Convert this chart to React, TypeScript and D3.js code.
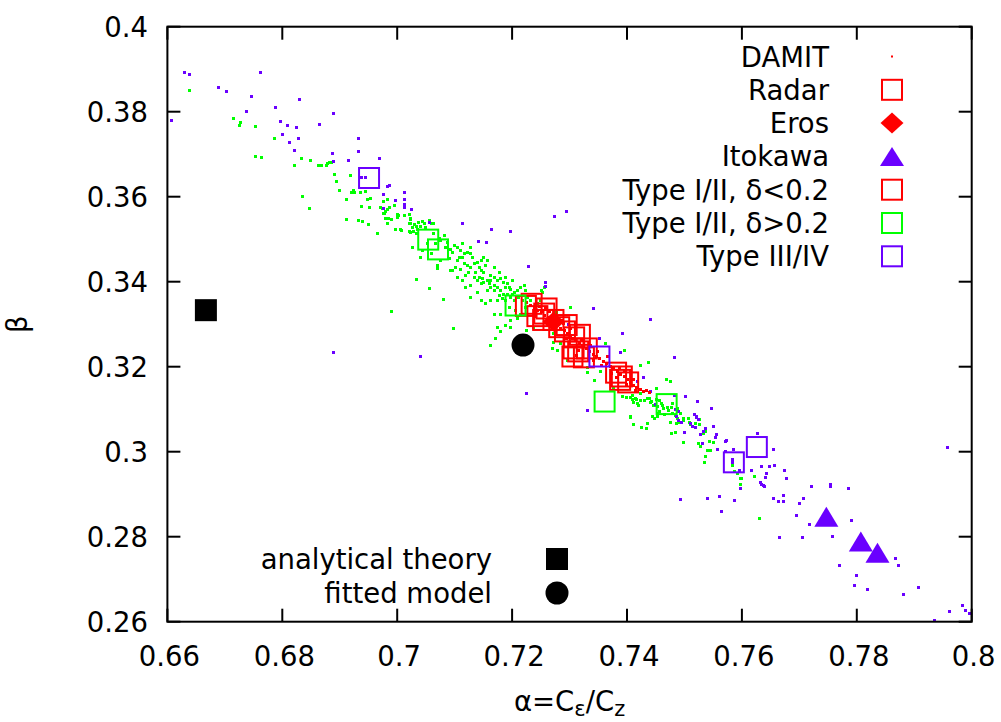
import React from 'react';
import * as d3 from 'd3';

// ---------- data ----------
const xTickValues = [0.66, 0.68, 0.7, 0.72, 0.74, 0.76, 0.78, 0.8];
const xTickLabels = ['0.66', '0.68', '0.7', '0.72', '0.74', '0.76', '0.78', '0.8'];
const yTickValues = [0.26, 0.28, 0.3, 0.32, 0.34, 0.36, 0.38, 0.4];
const yTickLabels = ['0.26', '0.28', '0.3', '0.32', '0.34', '0.36', '0.38', '0.4'];

const legendLabels = ['DAMIT', 'Radar', 'Eros', 'Itokawa', 'Type I/II, δ<0.2', 'Type I/II, δ>0.2', 'Type III/IV'];
const bottomLegendLabels = ['analytical theory', 'fitted model'];

const greenDots: [number, number][] = [
  [0.6637,0.3852],[0.6715,0.3785],[0.6727,0.3775],[0.6724,0.3768],[0.6752,0.3766],[0.6785,0.3738],[0.6752,0.3696],[0.6763,0.3694],
  [0.6833,0.3691],[0.6820,0.3674],[0.6849,0.3686],[0.6862,0.3675],[0.6867,0.3674],[0.6876,0.3675],[0.6877,0.3679],[0.6881,0.3681],
  [0.6884,0.3682],[0.6890,0.3653],[0.6893,0.3638],[0.6918,0.3652],[0.6899,0.3616],[0.6920,0.3612],[0.6923,0.3615],[0.6925,0.3611],
  [0.6935,0.3611],[0.6944,0.3613],[0.6835,0.3601],[0.6911,0.3595],[0.6947,0.3595],[0.6953,0.3596],[0.6846,0.3574],[0.6937,0.3578],
  [0.6951,0.3575],[0.6975,0.3591],[0.6983,0.3595],[0.6970,0.3575],[0.6974,0.3573],[0.6977,0.3562],[0.6979,0.3566],[0.6982,0.3572],
  [0.6986,0.3575],[0.6995,0.3580],[0.6911,0.3547],[0.6931,0.3546],[0.6939,0.3542],[0.6949,0.3536],[0.6976,0.3561],[0.6979,0.3550],
  [0.6984,0.3550],[0.6990,0.3547],[0.6999,0.3560],[0.7000,0.3552],[0.6983,0.3538],[0.6996,0.3525],[0.7005,0.3523],[0.7006,0.3522],
  [0.6965,0.3514],[0.7021,0.3560],[0.7022,0.3548],[0.7023,0.3539],[0.7021,0.3519],[0.7028,0.3520],[0.7032,0.3532],[0.7026,0.3482],
  [0.7040,0.3457],[0.7070,0.3433],[0.7039,0.3530],[0.7048,0.3527],[0.7055,0.3545],[0.7062,0.3538],
  [0.6989,0.3330],[0.7032,0.3407],[0.7055,0.3386],[0.7079,0.3359],[0.7097,0.3292],
  [0.7020,0.3539],[0.7029,0.3536],[0.7037,0.3541],[0.7043,0.3543],[0.7046,0.3537],[0.7058,0.3539],[0.7023,0.3518],[0.7032,0.3514],
  [0.7026,0.3482],[0.7043,0.3474],[0.7058,0.3467],[0.7066,0.3490],[0.7075,0.3498],[0.7081,0.3510],[0.7084,0.3482],[0.7092,0.3478],
  [0.7095,0.3470],[0.7104,0.3482],[0.7110,0.3474],[0.7113,0.3459],[0.7116,0.3467],[0.7121,0.3470],[0.7127,0.3467],[0.7130,0.3459],
  [0.7104,0.3451],[0.7101,0.3435],[0.7110,0.3431],[0.7116,0.3443],[0.7121,0.3439],[0.7127,0.3435],[0.7133,0.3443],[0.7139,0.3447],
  [0.7142,0.3435],[0.7145,0.3427],[0.7150,0.3423],[0.7153,0.3439],[0.7156,0.3451],[0.7162,0.3416],[0.7168,0.3412],[0.7174,0.3404],
  [0.7179,0.3408],[0.7185,0.3400],[0.7191,0.3396],[0.7194,0.3388],[0.7197,0.3384],[0.7179,0.3380],[0.7185,0.3372],[0.7162,0.3388],
  [0.7156,0.3380],[0.7145,0.3357],[0.7127,0.3365],[0.7118,0.3388],[0.7113,0.3404],[0.7095,0.3427],[0.7133,0.3412],[0.7139,0.3404],
  [0.7145,0.3396],[0.7150,0.3400],[0.7162,0.3404],[0.7168,0.3392],[0.7174,0.3388],[0.7203,0.3376],[0.7208,0.3380],[0.7214,0.3388],
  [0.7220,0.3392],[0.7223,0.3380],[0.7226,0.3365],[0.7197,0.3365],[0.7203,0.3357],[0.7188,0.3357],[0.7162,0.3357],[0.7153,0.3349],
  [0.7168,0.3325],[0.7179,0.3325],[0.7188,0.3298],[0.7174,0.3294],[0.7197,0.3310],[0.7249,0.3357],[0.7252,0.3376],[0.7255,0.3388],
  [0.7300,0.3341],
  [0.7001,0.3557],[0.7011,0.3558],[0.7020,0.3559],[0.7023,0.3549],[0.7026,0.3529],[0.7034,0.3525],[0.7049,0.3529],[0.7063,0.3514],
  [0.7072,0.3502],[0.7052,0.3490],[0.7087,0.3494],[0.7098,0.3486],[0.7090,0.3455],[0.7107,0.3459],[0.7092,0.3427],[0.7118,0.3416],
  [0.7124,0.3423],[0.7136,0.3423],[0.7142,0.3412],[0.7148,0.3408],[0.7156,0.3404],[0.7159,0.3396],[0.7168,0.3380],[0.7177,0.3369],
  [0.7182,0.3361],[0.7191,0.3372],[0.7200,0.3372],[0.7211,0.3365],[0.7217,0.3357],[0.7194,0.3341],[0.7205,0.3333],[0.7214,0.3325],
  [0.7223,0.3341],[0.7232,0.3357],[0.7243,0.3349],[0.7113,0.3490],[0.7127,0.3482],[0.7145,0.3451],[0.7150,0.3459],[0.7168,0.3435],
  [0.7177,0.3423],[0.7188,0.3412],[0.7200,0.3404],[0.7188,0.3388],[0.7174,0.3357],[0.7139,0.3376],[0.7127,0.3392],[0.7104,0.3412],
  [0.7075,0.3451],[0.7069,0.3439],
  [0.7162,0.3251],[0.7170,0.3268],[0.7270,0.3243],[0.7343,0.3169],[0.7436,0.3212],[0.7208,0.3314],[0.7196,0.3294],[0.7179,0.3283],
  [0.7237,0.3294],[0.7225,0.3287],[0.7272,0.3279],[0.7283,0.3255],[0.7278,0.3239],[0.7330,0.3200],[0.7353,0.3189],[0.7376,0.3153],
  [0.7405,0.3129],[0.7411,0.3118],[0.7423,0.3137],
  [0.7251,0.3380],[0.7276,0.3329],[0.7269,0.3243],[0.7272,0.3257],[0.7295,0.3216],[0.7330,0.3188],[0.7362,0.3255],[0.7395,0.3239],
  [0.7422,0.3203],[0.7468,0.3172],[0.7475,0.3167],[0.7451,0.3151],[0.7391,0.3130],[0.7398,0.3128],[0.7408,0.3134],
  [0.7414,0.3126],[0.7423,0.3122],[0.7434,0.3126],[0.7440,0.3118],[0.7446,0.3110],[0.7455,0.3122],[0.7461,0.3110],[0.7469,0.3106],
  [0.7478,0.3114],[0.7487,0.3102],[0.7492,0.3092],[0.7484,0.3086],[0.7498,0.3080],[0.7507,0.3079],[0.7452,0.3092],[0.7443,0.3083],
  [0.7405,0.3084],[0.7417,0.3114],
  [0.7409,0.3125],[0.7415,0.3123],[0.7419,0.3111],[0.7430,0.3121],[0.7438,0.3127],[0.7441,0.3119],[0.7447,0.3111],[0.7450,0.3123],
  [0.7453,0.3107],[0.7456,0.3095],[0.7459,0.3115],[0.7462,0.3103],[0.7465,0.3089],[0.7471,0.3099],[0.7476,0.3105],[0.7478,0.3091],
  [0.7483,0.3087],[0.7487,0.3079],[0.7491,0.3069],[0.7497,0.3075],[0.7508,0.3071],[0.7509,0.3065],[0.7518,0.3067],[0.7526,0.3065],
  [0.7525,0.3077],[0.7453,0.3083],[0.7447,0.3079],[0.7474,0.3069],[0.7486,0.3067],[0.7406,0.3081],[0.7410,0.3065],[0.7425,0.3059],
  [0.7433,0.3055],[0.7434,0.3067],[0.7476,0.3044],[0.7483,0.3046],[0.7497,0.3022],[0.7532,0.3045],[0.7535,0.3048],[0.7542,0.3026],
  [0.7550,0.3023],[0.7524,0.3020],[0.7527,0.3014],[0.7539,0.3004],[0.7545,0.3004],[0.7536,0.2991],[0.7534,0.2975],[0.7583,0.2969],
  [0.7586,0.2955],[0.7592,0.2951],[0.7596,0.2937],[0.7596,0.2925],[0.7599,0.2939],[0.7621,0.2943],[0.7629,0.2845],
];

const purpleDots: [number, number][] = [
  [0.6629,0.3894],[0.6637,0.3889],[0.6761,0.3894],[0.6688,0.3858],[0.6702,0.3849],[0.6746,0.3838],[0.6829,0.3829],[0.6736,0.3801],
  [0.6787,0.3812],[0.6888,0.3797],[0.6606,0.3780],[0.6796,0.3778],[0.6809,0.3769],[0.6824,0.3764],[0.6864,0.3770],[0.6800,0.3748],
  [0.6827,0.3738],[0.6812,0.3729],[0.6931,0.3737],[0.6820,0.3710],[0.6931,0.3708],[0.6886,0.3702],[0.6888,0.3683],[0.6914,0.3686],
  [0.6969,0.3692],[0.6937,0.3646],[0.6944,0.3647],[0.6983,0.3625],[0.6985,0.3628],[0.7012,0.3612],[0.6976,0.3607],[0.6997,0.3593],
  [0.7011,0.3595],[0.7011,0.3583],[0.7011,0.3575],[0.6976,0.3574],[0.7024,0.3571],[0.7056,0.3540],
  [0.7113,0.3539],[0.7164,0.3525],[0.7197,0.3519],[0.7140,0.3496],[0.7154,0.3494],[0.7273,0.3554],[0.7294,0.3567],[0.7228,0.3437],
  [0.7258,0.3399],[0.7257,0.3390],[0.7298,0.3300],
  [0.7340,0.3339],[0.7440,0.3312],[0.7391,0.3279],[0.7482,0.3222],[0.7040,0.3226],[0.7225,0.3138],[0.7352,0.3268],[0.7387,0.3235],
  [0.7331,0.3098],[0.7521,0.3120],[0.6888,0.3235],
  [0.7427,0.3175],[0.7417,0.3166],[0.7440,0.3142],[0.7481,0.3134],[0.7501,0.3131],[0.7546,0.3103],[0.7517,0.3088],[0.7520,0.3081],
  [0.7483,0.3100],[0.7449,0.3112],
  [0.7488,0.3095],[0.7486,0.3083],[0.7489,0.3075],[0.7494,0.3071],[0.7520,0.3085],[0.7524,0.3077],[0.7510,0.3067],[0.7514,0.3061],
  [0.7519,0.3057],[0.7550,0.3061],[0.7536,0.3056],[0.7533,0.3048],[0.7500,0.3046],[0.7527,0.3041],[0.7530,0.3021],[0.7555,0.3041],
  [0.7553,0.3034],[0.7572,0.3028],[0.7571,0.3025],[0.7556,0.3007],[0.7571,0.3001],[0.7627,0.3045],[0.7655,0.3006],[0.7585,0.3007],
  [0.7583,0.2983],[0.7583,0.2975],[0.7595,0.2957],[0.7616,0.2958],[0.7633,0.2966],[0.7648,0.2967],[0.7656,0.2968],[0.7642,0.2949],
  [0.7640,0.2940],[0.7632,0.2929],[0.7633,0.2925],[0.7637,0.2921],[0.7639,0.2919],[0.7674,0.2957],[0.7676,0.2937],[0.7596,0.2914],
  [0.7493,0.2889],[0.7540,0.2891],[0.7561,0.2895],[0.7586,0.2886],[0.7564,0.2860],[0.7655,0.2890],[0.7662,0.2883],[0.7672,0.2885],
  [0.7672,0.2898],[0.7700,0.2879],[0.7706,0.2892],[0.7695,0.2852],[0.7720,0.2920],[0.7754,0.2924],[0.7754,0.2920],[0.7785,0.2915],
  [0.7716,0.2830],[0.7665,0.2799],[0.7705,0.2799],[0.7757,0.2801],[0.7790,0.2840],[0.7769,0.2733],[0.7866,0.2751],[0.7872,0.2734],
  [0.7799,0.2711],[0.7795,0.2687],[0.7817,0.2676],[0.7880,0.2666],[0.7906,0.2682],[0.7957,0.3012],[0.7983,0.2640],[0.7989,0.2627],
  [0.7995,0.2620],[0.7961,0.2625],[0.7934,0.2605],
];

const redDots: [number, number][] = [
  [0.7225,0.3352],[0.7232,0.3345],[0.7238,0.3340],[0.7243,0.3333],[0.7250,0.3330],[0.7255,0.3322],[0.7262,0.3318],[0.7266,0.3310],
  [0.7272,0.3302],[0.7278,0.3300],[0.7283,0.3292],[0.7290,0.3287],[0.7296,0.3280],[0.7300,0.3275],[0.7305,0.3268],[0.7310,0.3262],
  [0.7316,0.3255],[0.7322,0.3250],[0.7328,0.3244],[0.7333,0.3238],[0.7340,0.3230],[0.7346,0.3226],[0.7352,0.3220],[0.7358,0.3214],
  [0.7364,0.3208],[0.7370,0.3201],[0.7376,0.3196],[0.7382,0.3190],[0.7388,0.3184],[0.7394,0.3178],[0.7400,0.3170],[0.7405,0.3163],
  [0.7410,0.3158],[0.7415,0.3152],[0.7422,0.3147],[0.7428,0.3142],[0.7433,0.3146],[0.7438,0.3141],[0.7240,0.3320],[0.7265,0.3330],
  [0.7285,0.3310],[0.7300,0.3290],[0.7320,0.3265],[0.7315,0.3240],[0.7340,0.3215],[0.7365,0.3225],[0.7380,0.3175],[0.7395,0.3190],
  [0.7410,0.3170],[0.7414,0.3145],[0.7246,0.3344],[0.7258,0.3339],[0.7270,0.3322],[0.7288,0.3302],[0.7293,0.3268],[0.7312,0.3228],
  [0.7336,0.3252],[0.7348,0.3238],[0.7355,0.3205],[0.7372,0.3186],[0.7386,0.3198],[0.7398,0.3160],
];

// Type I/II, δ<0.2 squares (red, hollow)
const typeLowSquares: [number, number][] = [
  [0.7234,0.3348],[0.7244,0.3319],[0.7256,0.3325],[0.7260,0.3337],[0.7254,0.3310],[0.7272,0.3310],[0.7282,0.3293],[0.7292,0.3283],
  [0.7295,0.3298],[0.7308,0.3269],[0.7318,0.3275],[0.7305,0.3224],[0.7325,0.3222],[0.7315,0.3236],[0.7330,0.3243],[0.7307,0.3243],
  [0.7388,0.3169],[0.7391,0.3177],
];
// Radar squares (red, hollow)
const radarSquares: [number, number][] = [[0.7224,0.3343],[0.7381,0.3186],[0.7402,0.3163]];
// Type I/II, δ>0.2 squares (green, hollow)
const typeHighSquares: [number, number][] = [[0.7054,0.3499],[0.7071,0.3476],[0.7206,0.3344],[0.7361,0.3118],[0.7469,0.3112]];
// Type III/IV squares (purple, hollow)
const typeIIISquares: [number, number][] = [[0.6951,0.3644],[0.7352,0.3224],[0.7586,0.2975],[0.7626,0.3011]];
const erosPoints: [number, number][] = [[0.7272,0.3306]];
const itokawaPoints: [number, number][] = [[0.7747,0.2847],[0.7807,0.2789],[0.7836,0.2762]];
const analyticalTheory: [number, number][] = [[0.6667,0.3333]];
const fittedModel: [number, number][] = [[0.7219,0.3251]];

// ---------- style ----------
const RED = '#ff0000';
const GREEN = '#00ff00';
const PURPLE = '#6a00ff';
const FONT = 'DejaVu Sans';
const FS = 27.5;

export default function App() {
  const left = 167.4, right = 971.7, top = 26.7, bottom = 621.7;
  const x = d3.scaleLinear().domain([0.66, 0.8]).range([left, right]);
  const y = d3.scaleLinear().domain([0.26, 0.4]).range([bottom, top]);
  const tick = 13;
  const sq = 20;

  const hollow = (pts: [number, number][], color: string, key: string) =>
    pts.map((p, i) => (
      <rect key={key + i} x={x(p[0]) - sq / 2} y={y(p[1]) - sq / 2} width={sq} height={sq}
        fill="none" stroke={color} strokeWidth={2} />
    ));
  const dots = (pts: [number, number][], color: string, key: string) =>
    pts.map((p, i) => (
      <rect key={key + i} x={Math.round(x(p[0])) - 1} y={Math.round(y(p[1])) - 1} width={3} height={3}
        fill={color} shapeRendering="crispEdges" />
    ));
  const tri = (cx: number, cy: number, w: number, h: number) =>
    `M${cx},${cy - h / 2}L${cx + w / 2},${cy + h / 2}L${cx - w / 2},${cy + h / 2}Z`;
  const diamond = (cx: number, cy: number, w: number, h: number) =>
    `M${cx},${cy - h / 2}L${cx + w / 2},${cy}L${cx},${cy + h / 2}L${cx - w / 2},${cy}Z`;

  const legX = 892, legTextX = 829, legY0 = 56.5, legDy = 33.3;
  const bLegY0 = 559, bLegDy = 34, bLegX = 557, bLegTextX = 492;
  const base = 10;

  return (
    <svg width={1001} height={722} style={{ position: 'absolute', left: 0, top: 0, background: '#fff' }}
      fontFamily={FONT} fontSize={FS}>
      <rect x={0} y={0} width={1001} height={722} fill="#fff" />
      {/* data */}
      {dots(greenDots, GREEN, 'g')}
      {dots(purpleDots, PURPLE, 'p')}
      {dots(redDots, RED, 'r')}
      {hollow(radarSquares, RED, 'rs')}
      {erosPoints.map((p, i) => (
        <path key={'e' + i} d={diamond(x(p[0]), y(p[1]), 22, 20)} fill={RED} />
      ))}
      {itokawaPoints.map((p, i) => (
        <path key={'i' + i} d={tri(x(p[0]), y(p[1]), 24, 20)} fill={PURPLE} />
      ))}
      {hollow(typeLowSquares, RED, 'tl')}
      {hollow(typeHighSquares, GREEN, 'th')}
      {hollow(typeIIISquares, PURPLE, 't3')}
      {analyticalTheory.map((p, i) => (
        <rect key={'a' + i} x={x(p[0]) - 11} y={y(p[1]) - 11} width={22} height={22} fill="#000" />
      ))}
      {fittedModel.map((p, i) => (
        <circle key={'f' + i} cx={x(p[0])} cy={y(p[1])} r={11.5} fill="#000" />
      ))}

      {/* frame */}
      <rect x={left} y={top} width={right - left} height={bottom - top} fill="none" stroke="#000" strokeWidth={2} />
      {xTickValues.map((v, i) => (
        <g key={'xt' + i}>
          <line x1={x(v)} x2={x(v)} y1={bottom} y2={bottom - tick} stroke="#000" strokeWidth={2} />
          <line x1={x(v)} x2={x(v)} y1={top} y2={top + tick} stroke="#000" strokeWidth={2} />
          <text x={x(v) + 2} y={666} textAnchor="middle">{xTickLabels[i]}</text>
        </g>
      ))}
      {yTickValues.map((v, i) => (
        <g key={'yt' + i}>
          <line x1={left} x2={left + tick} y1={y(v)} y2={y(v)} stroke="#000" strokeWidth={2} />
          <line x1={right} x2={right - tick} y1={y(v)} y2={y(v)} stroke="#000" strokeWidth={2} />
          <text x={148} y={y(v) + base} textAnchor="end">{yTickLabels[i]}</text>
        </g>
      ))}

      {/* axis titles */}
      <text x={(left + right) / 2} y={711} textAnchor="middle">
        α=C<tspan fontSize={21} dy={5}>ε</tspan><tspan dy={-5}>/C</tspan><tspan fontSize={21} dy={5}>z</tspan>
      </text>
      <text transform={`translate(27,${(top + bottom) / 2}) rotate(-90)`} textAnchor="middle">β</text>

      {/* legend (top right) */}
      {legendLabels.map((lab, i) => {
        const cy = legY0 + i * legDy;
        let sym: React.ReactNode = null;
        if (i === 0) sym = <rect x={legX - 1} y={cy - 1} width={2} height={2} fill={RED} />;
        else if (i === 1) sym = <rect x={legX - sq / 2} y={cy - sq / 2} width={sq} height={sq} fill="none" stroke={RED} strokeWidth={2} />;
        else if (i === 2) sym = <path d={diamond(legX, cy, 23, 21)} fill={RED} />;
        else if (i === 3) sym = <path d={tri(legX, cy, 24, 19)} fill={PURPLE} />;
        else {
          const c = i === 4 ? RED : i === 5 ? GREEN : PURPLE;
          sym = <rect x={legX - sq / 2} y={cy - sq / 2} width={sq} height={sq} fill="none" stroke={c} strokeWidth={2} />;
        }
        return (
          <g key={'lg' + i}>
            <text x={legTextX} y={cy + base} textAnchor="end">{lab}</text>
            {sym}
          </g>
        );
      })}

      {/* legend (bottom) */}
      {bottomLegendLabels.map((lab, i) => {
        const cy = bLegY0 + i * bLegDy;
        return (
          <g key={'bl' + i}>
            <text x={bLegTextX} y={cy + base} textAnchor="end">{lab}</text>
            {i === 0 ? (
              <rect x={bLegX - 11} y={cy - 11} width={22} height={22} fill="#000" />
            ) : (
              <circle cx={bLegX} cy={cy} r={11.5} fill="#000" />
            )}
          </g>
        );
      })}
    </svg>
  );
}
